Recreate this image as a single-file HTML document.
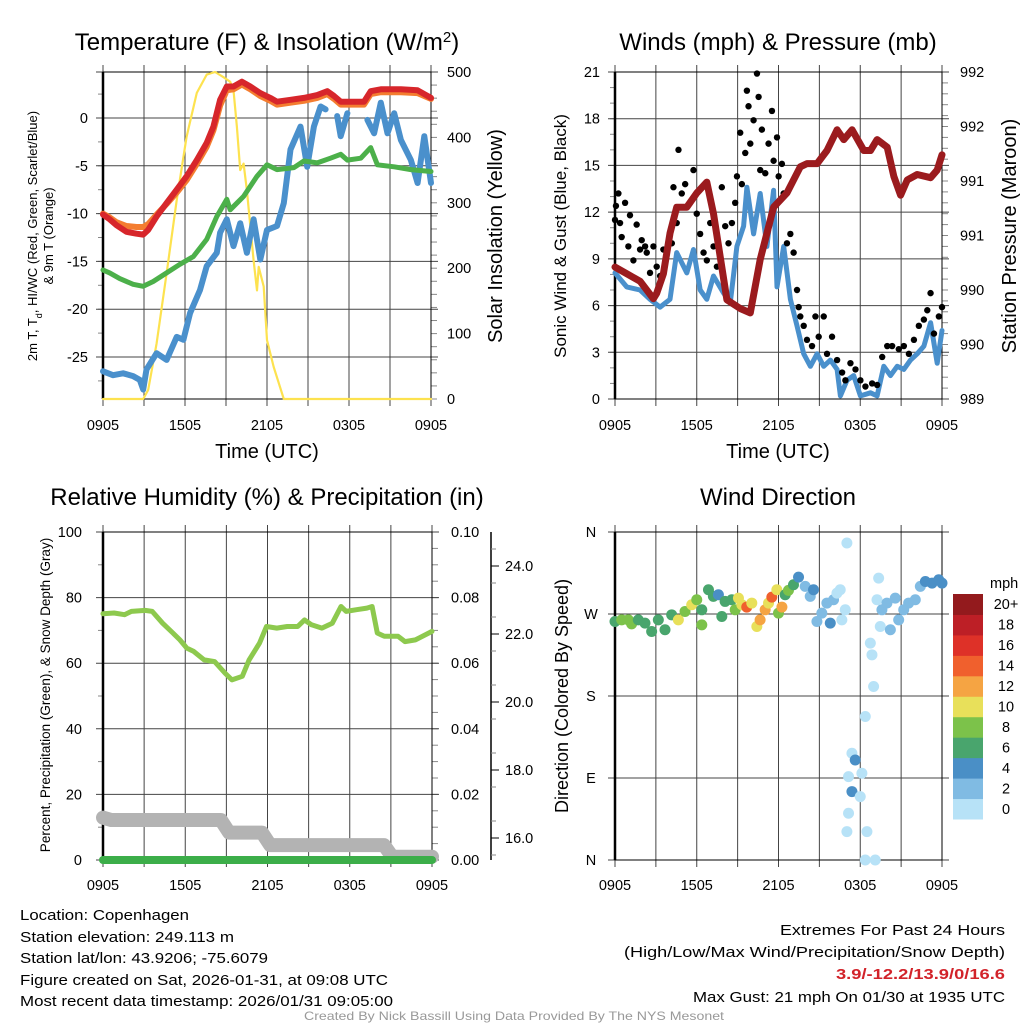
<!DOCTYPE html>
<html><head><meta charset="utf-8">
<style>
html,body{margin:0;padding:0;background:#fff;}
svg{display:block;font-family:"Liberation Sans",sans-serif;}
</style></head>
<body>
<svg id="fig" width="1024" height="1024" viewBox="0 0 1024 1024" xmlns="http://www.w3.org/2000/svg">
<rect x="0" y="0" width="1024" height="1024" fill="#fff"/>
<text x="267" y="50" font-size="24" text-anchor="middle">Temperature (F) &amp; Insolation (W/m<tspan baseline-shift="super" font-size="15">2</tspan>)</text>
<text x="778" y="50" font-size="24" text-anchor="middle">Winds (mph) &amp; Pressure (mb)</text>
<text x="267" y="505" font-size="24" text-anchor="middle">Relative Humidity (%) &amp; Precipitation (in)</text>
<text x="778" y="505" font-size="24" text-anchor="middle">Wind Direction</text>

<text x="267" y="458" font-size="20" text-anchor="middle">Time (UTC)</text>
<text x="778" y="458" font-size="20" text-anchor="middle">Time (UTC)</text>

<text transform="translate(37,236) rotate(-90)" font-size="13" text-anchor="middle">2m T, T<tspan baseline-shift="sub" font-size="9">d</tspan>, HI/WC (Red, Green, Scarlet/Blue)</text>
<text transform="translate(53,236) rotate(-90)" font-size="13" text-anchor="middle">&amp; 9m T (Orange)</text>
<text transform="translate(502,236) rotate(-90)" font-size="20" text-anchor="middle">Solar Insolation (Yellow)</text>
<text transform="translate(566,236) rotate(-90)" font-size="17" text-anchor="middle">Sonic Wind &amp; Gust (Blue, Black)</text>
<text transform="translate(1016,236) rotate(-90)" font-size="20" text-anchor="middle">Station Pressure (Maroon)</text>
<text transform="translate(50,695) rotate(-90)" font-size="13.5" text-anchor="middle">Percent, Precipitation (Green), &amp; Snow Depth (Gray)</text>
<text transform="translate(568,696) rotate(-90)" font-size="18" text-anchor="middle">Direction (Colored By Speed)</text>

<g font-size="14.5">
<text x="20" y="920" textLength="169" lengthAdjust="spacingAndGlyphs">Location: Copenhagen</text>
<text x="20" y="942" textLength="214" lengthAdjust="spacingAndGlyphs">Station elevation: 249.113 m</text>
<text x="20" y="963" textLength="248" lengthAdjust="spacingAndGlyphs">Station lat/lon: 43.9206; -75.6079</text>
<text x="20" y="985" textLength="368" lengthAdjust="spacingAndGlyphs">Figure created on Sat, 2026-01-31, at 09:08 UTC</text>
<text x="20" y="1006" textLength="373" lengthAdjust="spacingAndGlyphs">Most recent data timestamp: 2026/01/31 09:05:00</text>
</g>
<g font-size="15" text-anchor="end">
<text x="1005" y="935" textLength="225" lengthAdjust="spacingAndGlyphs">Extremes For Past 24 Hours</text>
<text x="1005" y="957" textLength="381" lengthAdjust="spacingAndGlyphs">(High/Low/Max Wind/Precipitation/Snow Depth)</text>
<text x="1005" y="979" textLength="169" lengthAdjust="spacingAndGlyphs" fill="#d2232a" font-weight="bold">3.9/-12.2/13.9/0/16.6</text>
<text x="1005" y="1002" textLength="312" lengthAdjust="spacingAndGlyphs">Max Gust: 21 mph On 01/30 at 1935 UTC</text>
</g>
<text x="514" y="1020" font-size="12" fill="#999" text-anchor="middle" textLength="420" lengthAdjust="spacingAndGlyphs">Created By Nick Bassill Using Data Provided By The NYS Mesonet</text>
<g id="plots"></g>
</svg>
<script>
// ---------- data ----------
const timeTickLabels = ["0905","1505","2105","0305","0905"];
const tempTicks = [0,-5,-10,-15,-20,-25];
const solarTicks = [0,100,200,300,400,500];
const windTicks = [0,3,6,9,12,15,18,21];
const presTickVals = [989,989.5,990,990.5,991,991.5,992];
const presTickLabels = ["989","990","990","991","991","992","992"];
const rhTicks = [0,20,40,60,80,100];
const precipTickLabels = ["0.00","0.02","0.04","0.06","0.08","0.10"];
const snowTicks = [16,18,20,22,24];
const dirTickLabels = ["N","E","S","W","N"];
const speedBinLabels = ["0","2","4","6","8","10","12","14","16","18","20+"];

const redTimes = [0,0.49,0.98,1.71,2.45,2.94,3.31,3.92,4.65,5.39,6.12,6.86,7.59,8.08,8.57,9.06,9.55,10.16,10.78,11.51,12.24,12.73,13.72,14.7,15.67,16.41,16.9,17.39,18.37,19.1,19.59,20.33,21.8,23.02,24];
const redVals = [-10.1,-10.6,-11.2,-11.9,-12.1,-12.2,-11.7,-10.3,-8.9,-7.5,-6.1,-4.4,-2.6,-0.9,1.9,3.3,3.3,3.8,3.3,2.6,2.1,1.7,1.9,2.1,2.4,2.8,2.3,1.7,1.7,1.7,2.8,3.0,3.0,2.9,2.1];
const orangeVals = [-10.0,-10.4,-10.9,-11.3,-11.4,-11.4,-11.1,-10.1,-9.0,-7.8,-6.5,-4.8,-3.0,-1.3,1.3,2.9,3.0,3.5,3.0,2.3,1.8,1.4,1.6,1.8,2.1,2.5,2.0,1.4,1.4,1.4,2.5,2.7,2.7,2.6,2.0];
const dewTimes = [0,0.49,1.22,2.2,2.94,3.67,4.65,5.63,6.61,7.59,8.33,9.06,9.31,10.29,11.27,12.0,12.73,13.96,14.7,15.67,16.65,17.39,17.88,18.86,19.59,20.08,21.31,22.53,24];
const dewVals = [-15.9,-16.2,-16.8,-17.4,-17.6,-17.1,-16.2,-15.3,-14.5,-12.7,-10.3,-8.5,-9.6,-8.2,-6.1,-4.9,-5.4,-5.2,-4.5,-4.7,-4.2,-3.8,-4.4,-4.2,-3.1,-4.9,-5.1,-5.4,-5.6];
const wcTimes = [0,0.73,1.47,2.2,2.69,2.94,3.18,3.92,4.65,5.39,5.88,6.37,7.1,7.59,8.33,8.57,9.06,9.55,10.04,10.53,11.02,11.51,12.0,12.73,13.23,13.72,14.45,14.94,15.43,15.92,16.29,16.65,17.14,17.39,17.88,18.61,19.35,19.84,20.33,20.82,21.31,21.8,22.53,23.02,23.51,24];
const wcVals = [-26.5,-26.9,-26.7,-27,-27.4,-28.4,-26.3,-24.6,-25.3,-22.9,-23.2,-20.4,-18.0,-15.5,-14.1,-12.0,-10.6,-13.4,-11.0,-14.1,-10.6,-14.8,-11.7,-11.3,-8.9,-3.3,-0.9,-5.1,-0.9,1.2,0.9,null,0.2,-1.9,0.5,null,-0.2,-1.6,1.6,-1.6,0.5,-2.3,-4.4,-6.8,-1.9,-6.8];
const solarTimes = [0,2.94,3.31,3.92,4.65,5.39,6.12,6.86,7.59,8.2,8.82,9.31,9.55,9.8,10.04,10.29,10.53,11.02,11.27,11.39,11.76,12.0,12.49,13.23,24];
const solarVals = [0,0,14,85,192,304,401,468,496,500,492,485,472,416,350,360,319,212,166,202,172,90,49,0,0];

const windTimes = [0,0.86,1.84,2.57,3.31,4.04,4.53,5.27,5.76,6.25,6.74,7.23,7.97,8.46,8.95,9.44,9.68,10.17,10.66,11.15,11.64,11.89,12.38,12.87,13.36,13.85,14.34,14.83,15.32,15.81,16.3,16.54,17.03,17.52,18.01,18.75,19.24,19.73,20.22,20.71,21.2,21.69,22.18,22.67,23.16,23.65,24];
const windVals = [8.1,7.2,7.0,6.4,5.9,6.4,9.4,8.1,9.6,7.0,6.4,7.9,6.8,6.2,9.8,11.1,13.6,10.6,13.2,9.8,13.4,7.2,9.8,6.4,4.7,2.9,2.1,2.9,2.1,2.5,1.9,0.2,1.2,1.5,0.2,0.4,0.2,2.1,1.5,2.1,1.9,2.5,2.9,3.4,4.9,2.3,4.4];
const gustTimes = [0,0.07,0.25,0.37,0.49,0.74,0.98,1.1,1.35,1.59,1.84,1.96,2.21,2.33,2.57,2.82,3.06,3.31,3.55,3.8,4.17,4.29,4.53,4.66,4.9,5.15,5.51,5.76,6.0,6.25,6.5,6.74,6.99,7.23,7.48,7.84,8.09,8.33,8.58,8.82,8.95,9.19,9.31,9.56,9.68,9.8,9.93,10.17,10.42,10.54,10.66,10.78,11.03,11.27,11.52,11.64,11.89,12.01,12.25,12.38,12.62,12.87,13.11,13.36,13.48,13.6,13.85,14.09,14.46,14.71,14.95,15.32,15.56,15.93,16.3,16.67,16.91,17.28,17.65,18.01,18.38,18.87,19.24,19.61,19.98,20.34,20.83,21.2,21.57,21.94,22.3,22.67,22.92,23.16,23.41,23.77,24];
const gustVals = [11.5,12.4,13.2,11.3,10.4,12.6,9.8,11.8,8.9,11.2,9.6,10.2,9.8,9.4,8.1,9.8,8.5,7.9,9.6,9.4,10.0,13.6,11.3,16.0,13.2,13.8,12.6,14.7,11.9,10.6,9.4,8.9,11.3,9.8,8.5,13.6,11.1,10.0,11.3,12.6,14.3,17.1,13.8,15.8,19.8,18.8,16.4,17.9,20.9,19.4,14.7,17.3,14.5,16.4,18.5,15.3,16.8,14.3,15.1,13.2,10.0,10.6,9.4,7.0,5.9,5.3,4.7,3.8,3.4,5.3,4.0,5.3,2.9,4.0,2.5,1.7,1.2,2.3,1.9,1.2,0.8,1.0,0.9,2.7,3.4,3.4,3.2,3.4,2.9,3.8,4.7,5.1,5.7,6.8,4.2,5.3,5.9];
const presTimes = [0,0.86,1.84,2.82,3.06,3.55,4.04,4.53,5.27,6.0,6.74,7.23,8.21,9.19,9.93,10.66,11.64,12.62,13.6,14.09,14.83,15.56,16.3,16.79,17.4,18.26,18.75,19.24,19.98,20.47,20.96,21.45,22.18,23.16,23.65,24];
const presVals = [990.21,990.15,990.08,989.92,989.97,990.15,990.52,990.76,990.76,990.89,990.99,990.70,989.91,989.83,989.79,990.28,990.76,990.89,991.13,991.16,991.16,991.28,991.47,991.38,991.47,991.28,991.28,991.38,991.31,991.04,990.87,991.01,991.06,991.03,991.10,991.24];

const rhTimes = [0,0.81,1.57,2.07,3.08,3.59,4.35,5.1,5.61,6.11,6.62,7.38,8.14,8.89,9.4,10.16,10.66,11.42,11.93,12.68,13.44,14.2,14.7,15.21,15.97,16.73,17.36,17.74,18.49,19.25,19.63,20.01,20.52,21.53,22.03,22.79,24];
const rhVals = [75.1,75.3,74.8,75.8,76.1,75.8,72.2,69.2,67.1,64.6,63.6,61.0,60.5,57.0,54.9,56.0,61.0,66.1,71.2,70.7,71.2,71.2,73.2,71.7,70.7,72.2,77.3,75.8,76.3,76.8,77.3,69.2,68.2,68.2,66.6,67.1,69.7];
const precipTimes = [0,24];
const precipVals = [0,0];
const snowTimes = [0,0.6,8.6,9.2,11.6,12.2,20.5,21.1,24];
const snowVals = [16.6,16.53,16.53,16.16,16.16,15.79,15.79,15.45,15.45];

const dirTimes = [0,0.49,0.98,1.22,1.71,2.2,2.69,3.18,3.67,4.16,4.65,5.14,5.63,6.0,6.37,6.37,6.86,7.22,7.59,7.84,8.08,8.57,8.82,9.06,9.31,9.67,10.04,10.41,10.65,11.02,11.27,11.51,11.88,12.0,12.25,12.49,12.73,13.1,13.47,13.96,14.33,14.57,14.82,15.18,15.55,15.8,16.04,16.29,16.53,16.65,16.9,17.02,17.39,17.63,17.14,17.39,18.0,18.12,17.14,17.02,18.37,18.74,18.86,18.98,18.49,18.37,19.1,19.35,19.23,19.47,19.59,19.96,20.21,20.57,20.82,21.19,21.55,22.04,22.41,22.78,23.27,23.76,24];
const dirVals = [261.8,263.6,263.6,259.2,263.6,260.0,250.8,263.6,252.7,269.1,263.6,272.8,280.1,285.6,274.6,258.1,296.6,289.3,291.1,267.3,283.8,285.6,274.6,287.4,280.1,277.6,282.0,256.3,263.6,274.6,282.0,288.5,296.6,271.0,277.6,291.1,295.9,302.1,310.5,300.3,289.3,296.6,261.8,271.0,282.0,260.0,285.6,292.9,296.6,263.6,274.6,347.9,117.2,109.8,91.5,75.1,69.6,95.2,51.3,31.1,157.5,238.0,225.2,190.4,31.1,0,0,309.4,285.6,256.3,274.6,282.0,252.7,287.4,263.6,274.6,282.0,285.6,300.3,305.7,303.9,307.6,303.9];
const dirSpeeds = [7,8,8,8,6,6,6,6,6,7,10,8,10,8,6,8,6,7,4,7,6,6,8,11,10,14,11,11,12,12,11,15,10,8,12,6,8,7,5,3,3,4,3,3,3,4,3,1,1,1,1,1,1,4,1,4,1,1,1,1,1,1,1,1,1,1,1,1,1,1,3,3,3,3,3,3,2,2,3,4,5,4,4];

// ---------- helpers ----------
const NS = "http://www.w3.org/2000/svg";
const root = document.getElementById('plots');
function mk(tag, attrs, parent) {
  const el = document.createElementNS(NS, tag);
  for (const k in attrs) el.setAttribute(k, attrs[k]);
  (parent || root).appendChild(el);
  return el;
}
function linear(d0, d1, r0, r1) { return v => r0 + (v - d0) / (d1 - d0) * (r1 - r0); }
function pathD(ts, vs, xf, yf) {
  let d = "", pen = false;
  for (let i = 0; i < ts.length; i++) {
    if (vs[i] === null) { pen = false; continue; }
    d += (pen ? "L" : "M") + xf(ts[i]).toFixed(1) + "," + yf(vs[i]).toFixed(1);
    pen = true;
  }
  return d;
}
function drawSeries(ts, vs, xf, yf, color, w, name) {
  const p = mk('path', {d: pathD(ts, vs, xf, yf), fill: 'none', stroke: color, 'stroke-width': w, 'stroke-linejoin': 'round', 'stroke-linecap': 'round'});
  
  
  return p;
}
function timeGrid(x0, x1, y0, y1, labelY, prefix) {
  const xs = linear(0, 24, x0, x1);
  for (let h = 0; h <= 24; h += 3) {
    const l = mk('line', {x1: xs(h), x2: xs(h), y1: y0 - 7, y2: y1 + 7, stroke: '#444', 'stroke-width': 1});
    
    
  }
  timeTickLabels.forEach((lab, i) => {
    const t = mk('text', {x: xs(i * 6), y: labelY, 'font-size': 14.5, 'text-anchor': 'middle'});
    t.textContent = lab;
    
    
  });
  return xs;
}
function hGrid(vals, yf, x0, x1, prefix) {
  vals.forEach(v => {
    const l = mk('line', {x1: x0 - 7, x2: x1 + 7, y1: yf(v), y2: yf(v), stroke: '#444', 'stroke-width': 1});
    
    
  });
}
function ticks(vals, yf, x, len, prefix) {
  vals.forEach(v => {
    const l = mk('line', {x1: x, x2: x + len, y1: yf(v), y2: yf(v), stroke: '#888', 'stroke-width': 1});
    
    
  });
}
function labels(vals, texts, yf, x, anchor, prefix) {
  vals.forEach((v, i) => {
    const t = mk('text', {x: x, y: yf(v) + 5, 'font-size': 14.5, 'text-anchor': anchor});
    t.textContent = texts[i];
    
    
  });
}
function frame(x0, x1, y0, y1, prefix) {
  const r = mk('rect', {x: x0, y: y0, width: x1 - x0, height: y1 - y0, fill: 'none', stroke: '#000', 'stroke-width': 1});
  
  
  const l = mk('line', {x1: x0, x2: x0, y1: y0, y2: y1, stroke: '#000', 'stroke-width': 2.5});
  
  
}
function range(a, b, s) { const r = []; for (let v = a; v <= b + 1e-9; v += s) r.push(v); return r; }

// ---------- panel 1: temperature ----------
{
  const X0 = 103, X1 = 431, Y0 = 72, Y1 = 399;
  const yT = linear(0, -25, 118, 357);
  const yS = linear(0, 500, Y1, Y0);
  ticks(range(-27.5, 2.5, 2.5), yT, X0 - 5, 5, 'temp');
  ticks(range(0, 500, 20), yS, X1, 6, 'solar');
  hGrid(tempTicks, yT, X0, X1, 'temp');
  hGrid([500], yS, X0, X1, 'temp-top');
  const xs = timeGrid(X0, X1, Y0, Y1, 430, 'temp');
  frame(X0, X1, Y0, Y1, 'temp');
  labels(tempTicks, tempTicks.map(String), yT, 88, 'end', 'temp-y');
  labels(solarTicks, solarTicks.map(String), yS, 447, 'start', 'solar-y');
  drawSeries(solarTimes, solarVals, xs, yS, '#fde24f', 2.2, 'solar-insolation-line');
  drawSeries(wcTimes, wcVals, xs, yT, '#4a90cc', 6, 'wind-chill-line');
  drawSeries(dewTimes, dewVals, xs, yT, '#4cb04a', 5, 'dewpoint-line');
  drawSeries(redTimes, orangeVals, xs, yT, '#f47d30', 6, 'temp-9m-line');
  drawSeries(redTimes, redVals, xs, yT, '#d7262b', 6, 'temp-2m-line');
}

// ---------- panel 2: winds & pressure ----------
{
  const X0 = 615, X1 = 942, Y0 = 72, Y1 = 399;
  const yW = linear(0, 21, Y1, Y0);
  const yP = linear(989, 992, Y1, Y0);
  ticks(range(0, 21, 1), yW, X0 - 5, 5, 'wind');
  ticks(range(989, 992, 0.1), yP, X1, 6, 'pressure');
  hGrid(windTicks, yW, X0, X1, 'wind');
  const xs = timeGrid(X0, X1, Y0, Y1, 430, 'wind');
  frame(X0, X1, Y0, Y1, 'wind');
  labels(windTicks, windTicks.map(String), yW, 600, 'end', 'wind-y');
  labels(presTickVals, presTickLabels, yP, 960, 'start', 'pressure-y');
  drawSeries(windTimes, windVals, xs, yW, '#4a90cc', 5, 'sonic-wind-line');
  gustTimes.forEach((t, i) => {
    const c = mk('circle', {cx: xs(t), cy: yW(gustVals[i]), r: 3.2, fill: '#000'});
    
    
  });
  drawSeries(presTimes, presVals, xs, yP, '#9b1b1e', 7, 'pressure-line');
}

// ---------- panel 3: RH & precip ----------
{
  const X0 = 103, X1 = 432, Y0 = 532, Y1 = 860;
  const yR = linear(0, 100, Y1, Y0);
  const yN = linear(16, 24, 838, 566);
  ticks(range(10, 90, 20), yR, X0 - 5, 5, 'rh');
  ticks(range(0, 100, 5), yR, X1, 6, 'precip');
  hGrid(rhTicks, yR, X0, X1, 'rh');
  const xs = timeGrid(X0, X1, Y0, Y1, 890, 'rh');
  frame(X0, X1, Y0, Y1, 'rh');
  labels(rhTicks, rhTicks.map(String), yR, 82, 'end', 'rh-y');
  labels(rhTicks, precipTickLabels, yR, 451, 'start', 'precip-y');
  const ax = mk('line', {x1: 491, x2: 491, y1: Y0, y2: Y1, stroke: '#000', 'stroke-width': 1.5});
  
  
  ticks(range(15.5, 24.5, 1), yN, 491, 5, 'snow');
  snowTicks.forEach(v => {
    const l = mk('line', {x1: 491, x2: 499, y1: yN(v), y2: yN(v), stroke: '#000', 'stroke-width': 1});
    
    
  });
  labels(snowTicks, snowTicks.map(v => v.toFixed(1)), yN, 505, 'start', 'snow-y');
  drawSeries(snowTimes, snowVals, xs, yN, '#b3b3b3', 14, 'snow-depth-line');
  drawSeries(precipTimes, precipVals, xs, yR, '#3cae49', 8, 'precipitation-line');
  drawSeries(rhTimes, rhVals, xs, yR, '#8dc94e', 5, 'relative-humidity-line');
}

// ---------- panel 4: wind direction ----------
{
  const X0 = 615, X1 = 942, Y0 = 532, Y1 = 860;
  const yD = linear(0, 360, Y1, Y0);
  hGrid([0, 90, 180, 270, 360], yD, X0, X1, 'dir');
  const xs = timeGrid(X0, X1, Y0, Y1, 890, 'dir');
  frame(X0, X1, Y0, Y1, 'dir');
  labels([0, 90, 180, 270, 360], dirTickLabels, yD, 591, 'middle', 'dir-y');
  const binColors = ['#b7e2f7','#80bbe3','#4a8fc6','#49a56d','#7cc24a','#e8e05a','#f5a443','#f0602d','#de3128','#bd1f26','#931a1d'];
  const bin = s => Math.min(10, Math.floor(s / 2));
  dirTimes.forEach((t, i) => {
    const c = mk('circle', {cx: xs(t), cy: yD(dirVals[i]), r: 5.5, fill: binColors[bin(dirSpeeds[i])]});
    
    
  });
  const cbTop = 594, cbH = 225 / 11;
  speedBinLabels.forEach((lab, i) => {
    const y = cbTop + (10 - i) * cbH;
    const r = mk('rect', {x: 953, y: y, width: 30, height: cbH + 0.5, fill: binColors[i]});
    
    
    const t = mk('text', {x: 1006, y: y + cbH / 2 + 5, 'font-size': 14.5, 'text-anchor': 'middle'});
    t.textContent = lab;
    
    
  });
  const u = mk('text', {x: 990, y: 588, 'font-size': 14.5});
  u.textContent = 'mph';
  
  
}
</script>
</body></html>
